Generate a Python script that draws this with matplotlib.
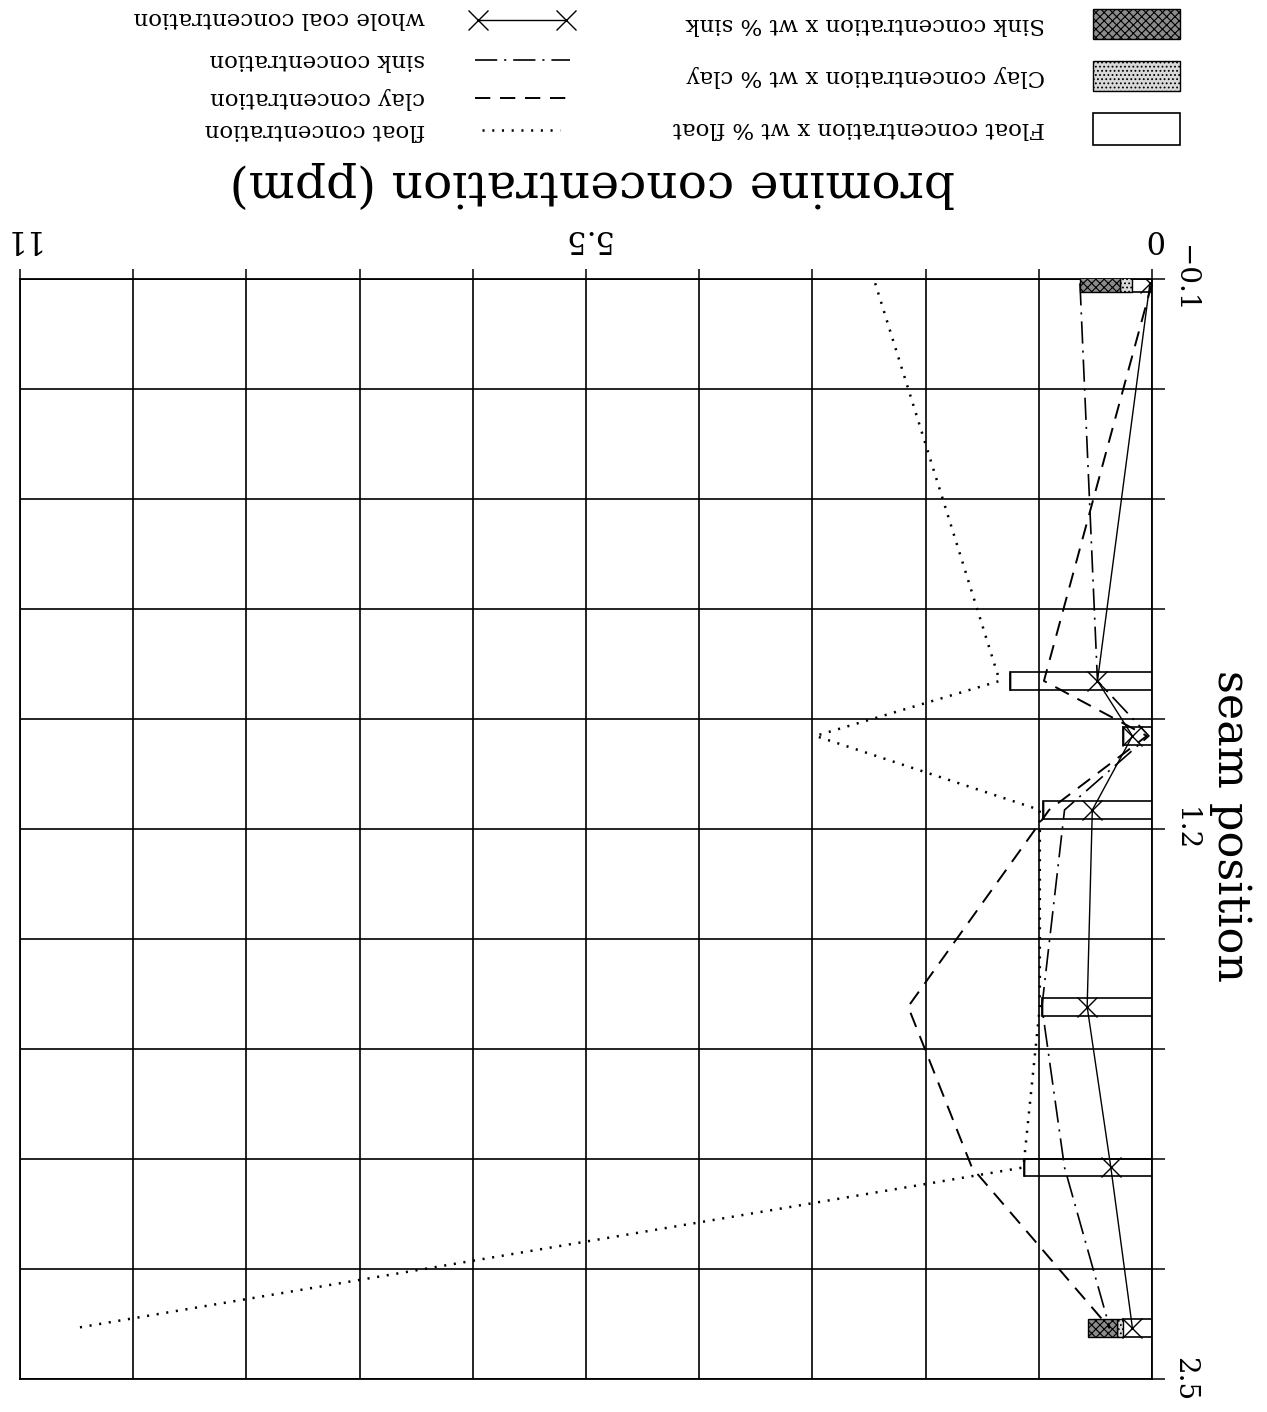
import numpy as np
import matplotlib.pyplot as plt
from matplotlib.patches import Rectangle
from matplotlib.lines import Line2D

plt.rcParams['font.family'] = ['DejaVu Serif']
plt.rcParams['lines.scale_dashes'] = False
plt.rcParams['hatch.linewidth'] = 0.8

# seam position of each sample
seam = [-0.09, 0.85, 0.98, 1.155, 1.62, 2.0, 2.38]

# bromine concentration (ppm)
float_conc = [2.69, 1.48, 3.27, 1.09, 1.09, 1.25, 10.47]
clay_conc = [0.0, 1.05, 0.05, 1.0, 2.37, 1.75, 0.41]
sink_conc = [0.70, 0.53, 0.03, 0.85, 1.07, 0.85, 0.41]
whole_conc = [0.02, 0.53, 0.19, 0.58, 0.63, 0.40, 0.19]

# concentration x wt %
float_wt = [0.19, 1.38, 0.28, 1.06, 1.07, 1.24, 0.28]
clay_wt = [0.12, 0.0, 0.0, 0.0, 0.0, 0.0, 0.06]
sink_wt = [0.39, 0.0, 0.0, 0.0, 0.0, 0.0, 0.28]

# axes ticks
x_ticks = np.linspace(0, 11, 11)
x_labels = ['0', '', '', '', '', '5.5', '', '', '', '', '11']
y_ticks = np.linspace(-0.1, 2.5, 11)
y_labels = ['\u22120.1', '', '', '', '', '1.2', '', '', '', '', '2.5']

W, H = 1267, 1412
fig = plt.figure(figsize=(W / 100, H / 100), dpi=100)
ax = fig.add_axes([20 / W, (H - 1379) / H, 1132 / W, 1100 / H])
ax.set_xlim(11, 0)
ax.set_ylim(2.5, -0.1)

# stacked bars
fl = np.array(float_wt)
cl = np.array(clay_wt)
sk = np.array(sink_wt)
bh = 0.042
ax.barh(seam, fl, height=bh, left=0, facecolor='none', edgecolor='black', lw=1.2, zorder=3)
ax.barh(seam, cl, height=bh, left=fl, facecolor='0.85', edgecolor='black', hatch='....', lw=1.0, zorder=3)
ax.barh(seam, sk, height=bh, left=fl + cl, facecolor='0.55', edgecolor='black', hatch='xxxx', lw=1.0, zorder=3)

# lines
ax.plot(float_conc, seam, color='black', lw=1.8, ls=(0, (1.5, 5.5)), zorder=4)
ax.plot(clay_conc, seam, color='black', lw=1.4, ls=(0, (11, 7)), zorder=4)
ax.plot(sink_conc, seam, color='black', lw=1.2, ls=(0, (16, 5, 1.5, 5)), zorder=4)
ax.plot(whole_conc, seam, color='black', lw=1.0, marker='x', ms=14, mew=1.0, zorder=5)

ax.xaxis.tick_top()
ax.yaxis.tick_right()
ax.set_xticks(x_ticks)
ax.set_xticklabels(x_labels, rotation=180)
ax.set_yticks(y_ticks)
ax.set_yticklabels(y_labels, rotation=270, va='center')
ax.tick_params(axis='x', direction='out', length=7, width=1.1, pad=11, labelsize=22)
ax.tick_params(axis='y', direction='out', length=9, width=1.1, pad=5, labelsize=20)
ax.grid(True, color='black', lw=1.2)
ax.set_axisbelow(True)
for s in ax.spines.values():
    s.set_linewidth(1.3)

fig.text(592 / W, 1 - 185 / H, 'bromine concentration (ppm)', rotation=180,
         ha='center', va='center', fontsize=35)
fig.text(1231 / W, 1 - 826 / H, 'seam position', rotation=270,
         ha='center', va='center', fontsize=32)

# legend, drawn upside down like the page
lax = fig.add_axes([0, 0, 1, 1])
lax.set_xlim(0, W)
lax.set_ylim(H, 0)
lax.axis('off')

lax.add_patch(Rectangle((1093, 9), 87, 30, facecolor='0.55', edgecolor='black', hatch='xxxx', lw=1.0))
lax.add_patch(Rectangle((1093, 61), 87, 30, facecolor='0.85', edgecolor='black', hatch='....', lw=1.0))
lax.add_patch(Rectangle((1093, 113), 87, 32, facecolor='white', edgecolor='black', lw=1.2))
box_text = ['Sink concentration x wt % sink', 'Clay concentration x wt % clay',
            'Float concentration x wt % float']
for t, y in zip(box_text, [24, 76, 128]):
    lax.text(1045, y, t, rotation=180, ha='right', va='center', fontsize=16.5)

lax.add_line(Line2D([478, 566], [20, 20], color='black', lw=1.0, marker='x', ms=14, mew=1.0))
lax.add_line(Line2D([475, 570], [60, 60], color='black', lw=1.2, ls=(0, (16, 5, 1.5, 5))))
lax.add_line(Line2D([475, 570], [98, 98], color='black', lw=1.4, ls=(0, (11, 7))))
lax.add_line(Line2D([482, 560], [130, 130], color='black', lw=1.8, ls=(0, (1.5, 5.5))))
line_text = ['whole coal concentration', 'sink concentration', 'clay concentration',
             'float concentration']
for t, y in zip(line_text, [18, 60, 98, 130]):
    lax.text(425, y, t, rotation=180, ha='right', va='center', fontsize=16.5)

fig.savefig('out.png', dpi=100, facecolor='white')
